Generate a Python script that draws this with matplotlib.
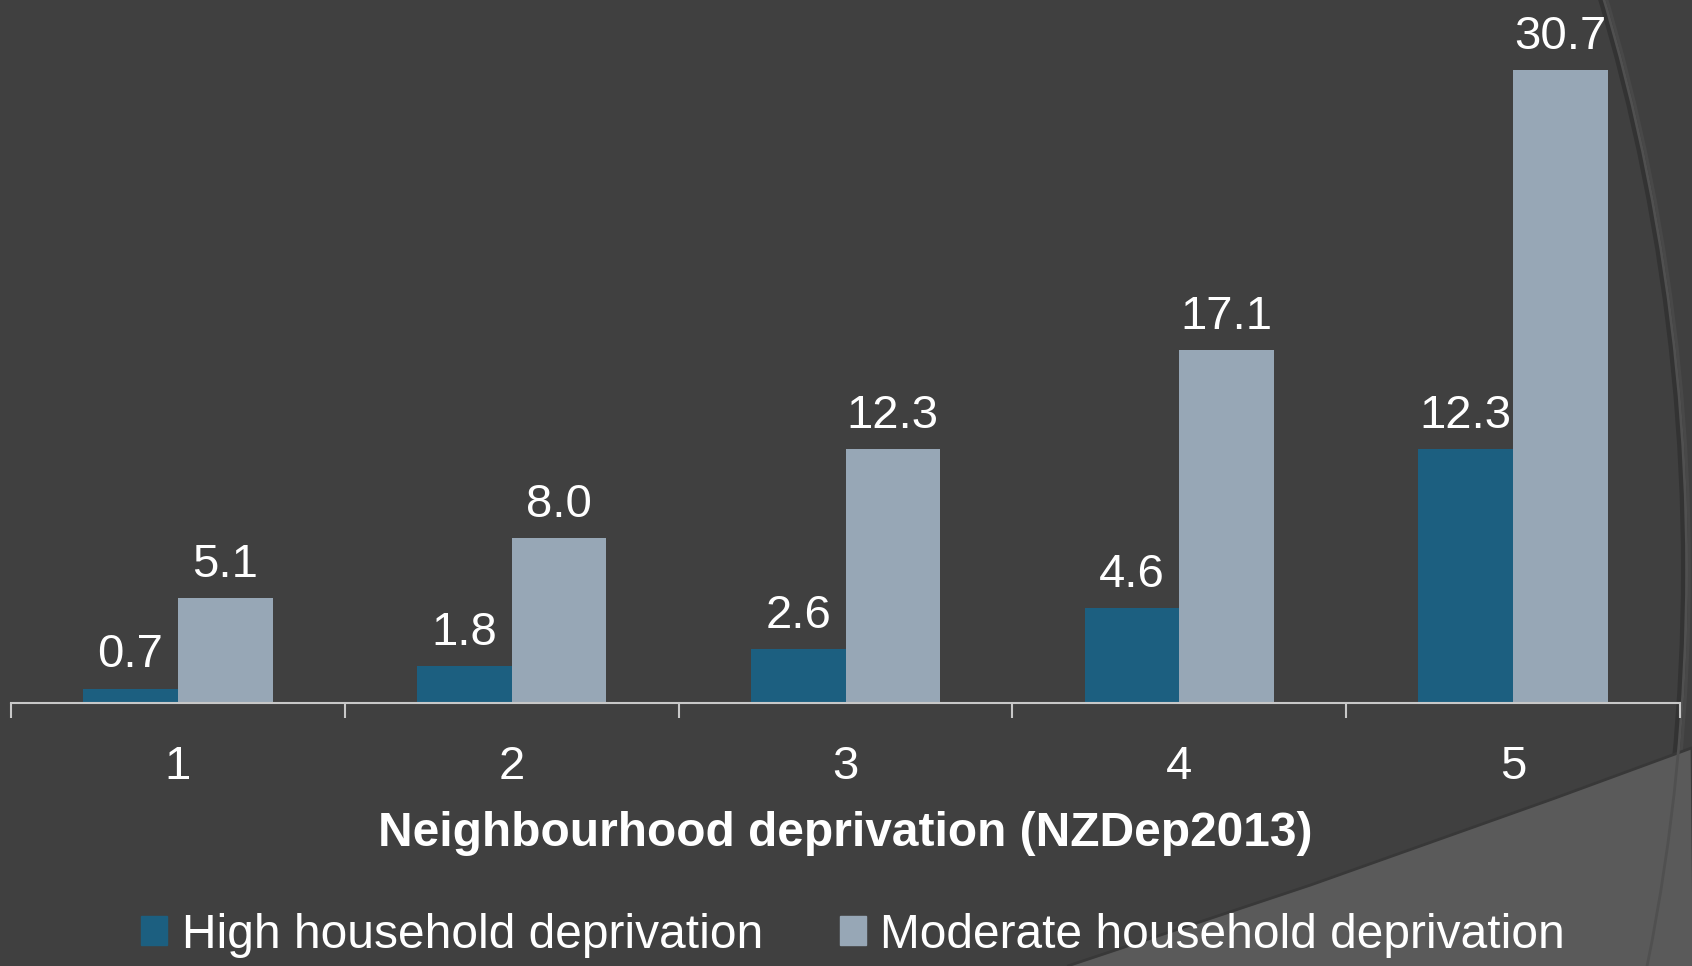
import numpy as np
import matplotlib
matplotlib.use("Agg")
import matplotlib.pyplot as plt
from matplotlib.patches import Ellipse, Polygon, Patch

plt.rcParams["font.family"] = ["Liberation Sans", "DejaVu Sans"]

categories = ["1", "2", "3", "4", "5"]
high = [0.7, 1.8, 2.6, 4.6, 12.3]
moderate = [5.1, 8.0, 12.3, 17.1, 30.7]
series_names = ["High household deprivation", "Moderate household deprivation"]

bg = "#404040"
c_high = "#1c5f80"
c_mod = "#97a7b6"

fig = plt.figure(figsize=(16.92, 9.66), dpi=100)
fig.patch.set_facecolor(bg)

# background decoration (slide theme): big arc and a lighter wedge bottom right
W, H = 1692, 966
s = W / 1568
def fc(x, y):
    return (x * s / W, 1 - y * s / H)

def ring(r, **kw):
    e = Ellipse(fc(-299, 528), 2 * r * s / W, 2 * r * s / H,
                transform=fig.transFigure, **kw)
    fig.patches.append(e)

ring(1866, facecolor="#484848", edgecolor="none", zorder=-3)
ring(1860, facecolor=bg, edgecolor="#333333", linewidth=5, zorder=-2)

wedge = Polygon([fc(1568, 693), fc(1440, 740), fc(1215, 820), fc(990, 895),
                 fc(990, 900), fc(1570, 900)], closed=True,
                transform=fig.transFigure, facecolor="#5a5a5a",
                edgecolor="#383838", linewidth=2, zorder=-1)
fig.patches.append(wedge)
ring(1862, facecolor="none", edgecolor="#505050", linewidth=2, zorder=-0.5)

ax = fig.add_axes([11 / W, 1 - 703 / H, (1680 - 11) / W, 703 / H])
ax.set_facecolor("none")

x = np.arange(len(categories))
w = 0.284
b1 = ax.bar(x - w / 2, high, w, color=c_high, zorder=2)
b2 = ax.bar(x + w / 2, moderate, w, color=c_mod, zorder=2)

for bars, vals in ((b1, high), (b2, moderate)):
    for r, v in zip(bars, vals):
        ax.annotate(f"{v:.1f}", (r.get_x() + r.get_width() / 2, v),
                    xytext=(0, 8), textcoords="offset points",
                    ha="center", va="bottom", color="white", fontsize=34)

ax.set_xlim(-0.5, 4.5)
ax.set_ylim(0, 34.1)
for sp in ["top", "right", "left"]:
    ax.spines[sp].set_visible(False)
ax.spines["bottom"].set_color("#c8c8c8")
ax.spines["bottom"].set_linewidth(1.5)
ax.set_yticks([])
ax.set_xticks(x)
ax.set_xticklabels(categories)
ax.set_xticks(np.arange(-0.5, 5, 1), minor=True)
ax.tick_params(axis="x", which="major", length=0, pad=30, labelsize=34,
               labelcolor="white")
ax.tick_params(axis="x", which="minor", length=11, width=1.5, color="#c8c8c8")

fig.text(0.5 + 0.5 * (11 + 1680 - W) / W, 1 - 834 / H,
         "Neighbourhood deprivation (NZDep2013)", ha="center", va="center",
         color="white", fontsize=34.5, fontweight="bold")

handles = [Patch(color=c_high), Patch(color=c_mod)]
leg = fig.legend(handles, series_names, loc="center", ncol=2,
                 bbox_to_anchor=(853 / W, 1 - 935 / H), frameon=False,
                 prop={"size": 34.5},
                 handlelength=0.55, handleheight=0.55, handletextpad=0.3,
                 columnspacing=1.6, borderpad=0)
for t in leg.get_texts():
    t.set_color("white")

fig.savefig("out.png", dpi=100, facecolor=bg)
